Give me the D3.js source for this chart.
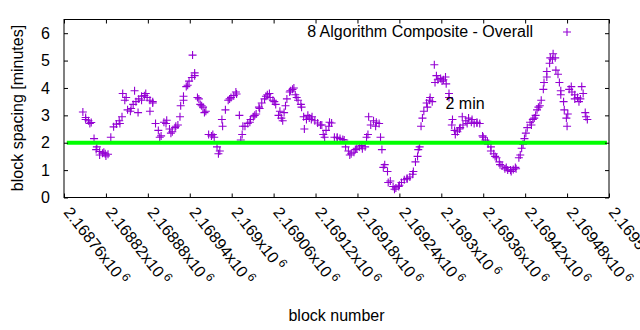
<!DOCTYPE html>
<html>
<head>
<meta charset="utf-8">
<script src="https://cdn.jsdelivr.net/npm/d3@7/dist/d3.min.js"></script>
<style>
  body { margin: 0; background: #fff; }
  svg { display: block; }
  text { font-family: "Liberation Sans", Arial, Helvetica, sans-serif; fill: #000; }
</style>
</head>
<body>
<svg id="chart" width="640" height="330"></svg>
<script>
// Block spacing (minutes), sampled every 4 blocks starting at firstBlock
const firstBlock = 2168787;
const blockStep = 4;
const spacing = [
  3.12, 2.92, 2.80, 2.74, 2.15, 1.85, 1.68, 1.62, 1.60, 1.58,
  2.20, 2.58, 2.68, 2.80, 2.95, 3.55, 3.20, 3.15, 3.40, 3.50,
  3.60, 3.70, 3.72, 3.65, 3.55, 3.45, 2.70, 2.45, 2.25, 2.75,
  2.82, 2.50, 2.40, 2.55, 2.65, 3.35, 3.70, 4.05, 4.25, 4.38,
  4.45, 3.65, 3.40, 3.30, 3.15, 2.30, 2.25, 2.20, 1.85, 1.70,
  2.60, 3.20, 3.55, 3.65, 3.72, 3.78, 3.00, 2.30, 2.60, 2.70,
  2.85, 2.95, 3.05, 3.30, 3.45, 3.60, 3.75, 3.65, 3.55, 3.40,
  3.00, 2.90, 3.10, 3.60, 3.85, 3.95, 3.75, 3.55, 3.40, 2.95,
  2.85, 2.90, 2.95, 2.80, 2.72, 2.65, 2.30, 2.45, 2.60, 2.72,
  2.20, 2.18, 2.15, 2.12, 1.85, 1.70, 1.60, 1.65, 1.80, 1.85,
  1.78, 1.85, 2.30, 2.65, 2.80, 2.75, 2.70, 1.75, 1.20, 0.95,
  0.60, 0.40, 0.35, 0.40, 0.55, 0.65, 0.68, 0.75, 0.85, 1.30,
  1.75, 2.60, 3.15, 3.45, 3.55, 3.50, 4.20, 4.30, 4.35, 4.30,
  4.15, 3.80, 2.65, 2.45, 2.40, 2.55, 2.65, 2.80, 2.90, 2.75,
  2.70, 2.72, 2.70, 2.25, 2.10, 1.95, 1.85, 1.60, 1.45, 1.30,
  1.15, 1.05, 1.00, 1.00, 1.02, 1.05, 1.45, 1.80, 2.15, 2.55,
  2.75, 2.85, 3.00, 3.30, 3.55, 4.20, 4.60, 4.90, 5.05, 5.10,
  4.50, 3.90, 3.50, 2.90, 3.95, 3.85, 3.75, 3.65, 3.60, 3.80,
  2.95
];

// Further individual blocks scattered around the sampled trend
const extraBlocks = [
  2168791, 2168797, 2168806, 2168811, 2168817, 2168820, 2168840, 2168844, 2168849, 2168856,
  2168861, 2168866, 2168871, 2168877, 2168883, 2168887, 2168897, 2168906, 2168913, 2168920,
  2168926, 2168931, 2168937, 2168944, 2168947, 2168953, 2168957, 2168961, 2168973, 2168981,
  2168986, 2168997, 2169006, 2169013, 2169016, 2169026, 2169033, 2169040, 2169049, 2169054,
  2169061, 2169069, 2169073, 2169077, 2169084, 2169089, 2169093, 2169100, 2169104, 2169109,
  2169114, 2169129, 2169133, 2169140, 2169151, 2169161, 2169169, 2169177, 2169186, 2169193,
  2169196, 2169206, 2169213, 2169217, 2169224, 2169233, 2169240, 2169251, 2169260, 2169266,
  2169269, 2169273, 2169280, 2169284, 2169290, 2169293, 2169301, 2169306, 2169311, 2169316,
  2169320, 2169326, 2169330, 2169337, 2169344, 2169351, 2169360, 2169366, 2169371, 2169377,
  2169384, 2169393, 2169400, 2169406, 2169413, 2169417, 2169421, 2169429, 2169433, 2169437,
  2169441, 2169446, 2169451, 2169456, 2169460, 2169464, 2169469, 2169471, 2169476, 2169480,
  2169481, 2169486, 2169491, 2169497, 2169501, 2169506, 2169509
];
const extraSpacing = [
  2.85, 2.70, 1.75, 1.55, 1.65, 1.52, 2.70, 3.80, 3.65, 3.25,
  3.90, 3.10, 3.55, 3.80, 3.15, 3.50, 2.20, 2.70, 2.35, 2.60,
  2.95, 3.55, 4.10, 5.20, 4.55, 3.60, 3.35, 3.10, 2.30, 1.60,
  2.85, 3.60, 3.85, 2.10, 2.60, 2.75, 3.00, 3.25, 3.70, 3.80,
  3.50, 3.15, 2.80, 3.35, 3.90, 4.00, 3.65, 3.30, 2.50, 3.00,
  2.85, 2.65, 2.20, 2.75, 2.20, 2.10, 1.55, 1.75, 1.90, 2.20,
  2.95, 2.60, 2.20, 1.10, 0.55, 0.30, 0.45, 0.70, 0.95, 1.50,
  1.85, 2.90, 3.30, 3.65, 4.85, 4.45, 4.25, 4.40, 3.65, 2.85,
  2.30, 2.50, 2.95, 2.70, 2.85, 2.75, 2.20, 2.05, 1.70, 1.50,
  1.20, 1.10, 0.95, 1.10, 1.55, 1.95, 2.35, 2.65, 2.90, 3.20,
  3.35, 3.95, 4.40, 5.10, 5.25, 4.65, 4.20, 3.75, 3.20, 2.60,
  3.05, 4.05, 3.60, 3.50, 4.05, 3.10, 2.85
];

const xTicks = [2168760, 2168820, 2168880, 2168940, 2169000, 2169060, 2169120,
                2169180, 2169240, 2169300, 2169360, 2169420, 2169480, 2169540];
const yTicks = [0, 1, 2, 3, 4, 5, 6];
const seriesName = "8 Algorithm Composite - Overall";
const refLine = { label: "2 min", value: 2, from: 2168764, to: 2169537 };
const refLabelAt = { block: 2169306, value: 3.45 };

const W = 640, H = 330;
const M = { left: 64, right: 609, top: 19.5, bottom: 197.5 };
const purple = "#9400d3";
const fontSize = 16;

const svg = d3.select("#chart");

const x = d3.scaleLinear().domain([2168760, 2169540]).range([M.left, M.right]);
const y = d3.scaleLinear().domain([0, 6.5]).range([M.bottom, M.top]);

const points = spacing.map((v, i) => ({ block: firstBlock + i * blockStep, value: v }))
  .concat(extraBlocks.map((b, i) => ({ block: b, value: extraSpacing[i] })));

const plus = "M-4,0H4M0,-4V4";

// data points
svg.append("g")
  .selectAll("path")
  .data(points)
  .join("path")
  .attr("d", plus)
  .attr("transform", d => `translate(${x(d.block)},${y(d.value)})`)
  .attr("stroke", purple)
  .attr("stroke-width", 1.1)
  .attr("fill", "none");

// 2 minute target line
svg.append("line")
  .attr("x1", x(refLine.from)).attr("x2", x(refLine.to))
  .attr("y1", y(refLine.value)).attr("y2", y(refLine.value))
  .attr("stroke", "#00ff00")
  .attr("stroke-width", 4);

svg.append("text")
  .attr("x", x(refLabelAt.block))
  .attr("y", y(refLabelAt.value))
  .attr("dy", "0.35em")
  .attr("font-size", fontSize)
  .text(refLine.label);

// axes (ticks on all four sides, inward)
const tickLen = 4;
svg.append("g")
  .attr("transform", `translate(0,${M.bottom})`)
  .call(d3.axisBottom(x).tickValues(xTicks).tickSize(-tickLen).tickFormat(""))
  .call(g => g.select(".domain").remove());
svg.append("g")
  .attr("transform", `translate(0,${M.top})`)
  .call(d3.axisTop(x).tickValues(xTicks).tickSize(-tickLen).tickFormat(""))
  .call(g => g.select(".domain").remove());
svg.append("g")
  .attr("transform", `translate(${M.left},0)`)
  .call(d3.axisLeft(y).tickValues(yTicks).tickSize(-tickLen).tickPadding(14).tickFormat(d3.format("d")))
  .call(g => g.select(".domain").remove())
  .call(g => g.selectAll("text").attr("font-size", fontSize).attr("fill", "#000")
    .attr("font-family", "'Liberation Sans', Arial, sans-serif"));
svg.append("g")
  .attr("transform", `translate(${M.right},0)`)
  .call(d3.axisRight(y).tickValues(yTicks).tickSize(-tickLen).tickFormat(""))
  .call(g => g.select(".domain").remove());

svg.append("rect")
  .attr("x", M.left).attr("y", M.top)
  .attr("width", M.right - M.left).attr("height", M.bottom - M.top)
  .attr("fill", "none").attr("stroke", "#000").attr("stroke-width", 1);

// rotated x tick labels: mantissa x10^6
const xl = svg.append("g").selectAll("text")
  .data(xTicks)
  .join("text")
  .attr("transform", d => `translate(${x(d) - 1},${M.bottom + 15}) rotate(52)`)
  .attr("font-size", fontSize);
xl.append("tspan").text(d => `${+(d / 1e6).toFixed(5)}x10`);
xl.append("tspan").attr("dx", 3).attr("dy", -6).attr("font-size", 12).text("6");

// axis titles
svg.append("text")
  .attr("transform", `translate(23,108) rotate(-90)`)
  .attr("text-anchor", "middle")
  .attr("font-size", fontSize)
  .text("block spacing [minutes]");
svg.append("text")
  .attr("x", (M.left + M.right) / 2)
  .attr("y", 321)
  .attr("text-anchor", "middle")
  .attr("font-size", fontSize)
  .text("block number");

// key
svg.append("text")
  .attr("x", 533).attr("y", 37)
  .attr("text-anchor", "end")
  .attr("font-size", fontSize)
  .text(seriesName);
svg.append("path")
  .attr("d", plus)
  .attr("transform", "translate(567,32)")
  .attr("stroke", purple).attr("stroke-width", 1.1).attr("fill", "none");
</script>
</body>
</html>
